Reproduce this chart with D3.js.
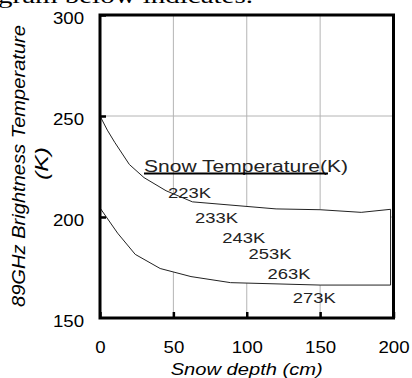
<!DOCTYPE html>
<html>
<head>
<meta charset="utf-8">
<script src="https://cdn.jsdelivr.net/npm/d3@7"></script>
<style>
  body { margin: 0; background: #fff; }
  svg { display: block; }
  .tick text { font-family: "Liberation Sans", Arial, sans-serif; fill: #000; }
</style>
</head>
<body>
<div id="chart"></div>
<script>
// snow depth (cm) vs 89GHz brightness temperature (K), band edges
const depthUpper = [0, 5, 10, 20, 30, 45, 63, 120, 150, 178, 198];
const tbUpper    = [250, 243, 237, 226, 219.5, 213, 207.5, 204, 203.6, 202.3, 203.8];
const depthLower = [0, 12, 24, 41, 62, 89, 150, 198];
const tbLower    = [204.5, 192, 181.5, 174.5, 170.5, 167.5, 166.3, 166.3];

const snowTemps = ["223K", "233K", "243K", "253K", "263K", "273K"];
const xTicks = [0, 50, 100, 150, 200];
const yTicks = [150, 200, 250, 300];

let w = 412, h = 378;
let mLeft = 100, mRight = 393.5, mTop = 15, mBottom = 318;

const svg = d3.select("#chart").append("svg")
  .attr("width", w).attr("height", h);

// clipped text from the page above the figure
svg.append("text")
  .attr("x", -2).attr("y", 3)
  .attr("font-family", "Liberation Serif, serif")
  .attr("font-size", 20)
  .attr("textLength", 255)
  .attr("lengthAdjust", "spacingAndGlyphs")
  .text("gram below indicates.");

const x = d3.scaleLinear().domain([0, 200]).range([mLeft, mRight]);
const y = d3.scaleLinear().domain([150, 300]).range([mBottom, mTop]);

// grid
svg.append("g")
  .selectAll("line")
  .data([50, 100, 150])
  .enter().append("line")
  .attr("x1", d => x(d)).attr("x2", d => x(d))
  .attr("y1", mTop).attr("y2", mBottom)
  .attr("stroke", "#b4b4b4").attr("stroke-width", 1);
svg.append("g")
  .selectAll("line")
  .data([200, 250])
  .enter().append("line")
  .attr("x1", mLeft).attr("x2", mRight)
  .attr("y1", d => y(d)).attr("y2", d => y(d))
  .attr("stroke", "#b4b4b4").attr("stroke-width", 1);

// white band between the two curves
let upperPts = depthUpper.map((d, i) => [x(d), y(tbUpper[i])]);
let lowerPts = depthLower.map((d, i) => [x(d), y(tbLower[i])]).reverse();
svg.append("path")
  .attr("d", d3.line()(upperPts.concat(lowerPts)) + "Z")
  .attr("fill", "#fff")
  .attr("stroke", "#222")
  .attr("stroke-width", 1);

// axes
function stretch(sel, k) {
  sel.each(function() {
    let len = this.getComputedTextLength();
    d3.select(this).attr("textLength", len * k).attr("lengthAdjust", "spacingAndGlyphs");
  });
}

const yAxis = svg.append("g")
  .attr("transform", `translate(${mLeft},0)`)
  .call(d3.axisLeft(y).tickValues(yTicks).tickSizeInner(-6).tickSizeOuter(0).tickPadding(16));
yAxis.select(".domain").remove();
yAxis.selectAll(".tick line").attr("stroke", "#000").attr("stroke-width", 2.5)
  .filter(d => d == 150).remove();
yAxis.selectAll(".tick text").attr("font-size", 16.5).attr("dy", "0.5em");
stretch(yAxis.selectAll(".tick text"), 1.13);

const xAxis = svg.append("g")
  .attr("transform", `translate(0,${mBottom})`)
  .call(d3.axisBottom(x).tickValues(xTicks).tickSizeInner(-6).tickSizeOuter(0).tickPadding(23));
xAxis.select(".domain").remove();
xAxis.selectAll(".tick line").attr("stroke", "#000").attr("stroke-width", 2.5);
xAxis.selectAll(".tick text").attr("font-size", 16.5);
stretch(xAxis.selectAll(".tick text"), 1.13);

// frame
svg.append("rect")
  .attr("x", mLeft).attr("y", mTop)
  .attr("width", mRight - mLeft).attr("height", mBottom - mTop)
  .attr("fill", "none").attr("stroke", "#000").attr("stroke-width", 3);

// legend title
svg.append("text")
  .attr("x", 144).attr("y", 171.5)
  .attr("font-family", "Liberation Sans, Arial, sans-serif")
  .attr("font-size", 16)
  .attr("fill", "#222")
  .attr("textLength", 204)
  .attr("lengthAdjust", "spacingAndGlyphs")
  .text("Snow Temperature(K)");
svg.append("line")
  .attr("x1", 144).attr("x2", 328)
  .attr("y1", 173.5).attr("y2", 173.5)
  .attr("stroke", "#000").attr("stroke-width", 2);

// temperature labels, anchored in data units
let labelDepth = [46.4, 64.8, 83.3, 101.2, 114.2, 131.3];
let labelTb = [209.4, 196.9, 187.3, 179.2, 169.5, 157.3];
svg.append("g")
  .selectAll("text")
  .data(snowTemps)
  .enter().append("text")
  .attr("x", (d, i) => x(labelDepth[i]))
  .attr("y", (d, i) => y(labelTb[i]))
  .attr("font-family", "Liberation Sans, Arial, sans-serif")
  .attr("font-size", 14)
  .attr("fill", "#222")
  .attr("textLength", 43)
  .attr("lengthAdjust", "spacingAndGlyphs")
  .text(d => d);

// axis titles
svg.append("text")
  .attr("x", 246.7).attr("y", 374.5)
  .attr("text-anchor", "middle")
  .attr("font-family", "Liberation Sans, Arial, sans-serif")
  .attr("font-style", "italic")
  .attr("font-size", 16.5)
  .attr("textLength", 152)
  .attr("lengthAdjust", "spacingAndGlyphs")
  .text("Snow depth (cm)");

svg.append("text")
  .attr("transform", "translate(25,166) rotate(-90)")
  .attr("text-anchor", "middle")
  .attr("font-family", "Liberation Sans, Arial, sans-serif")
  .attr("font-style", "italic")
  .attr("font-size", 19)
  .attr("textLength", 282)
  .attr("lengthAdjust", "spacingAndGlyphs")
  .text("89GHz Brightness Temperature");
svg.append("text")
  .attr("transform", "translate(47.5,163.5) rotate(-90)")
  .attr("text-anchor", "middle")
  .attr("font-family", "Liberation Sans, Arial, sans-serif")
  .attr("font-style", "italic")
  .attr("font-size", 19)
  .attr("textLength", 33)
  .attr("lengthAdjust", "spacingAndGlyphs")
  .text("(K)");
</script>
</body>
</html>
